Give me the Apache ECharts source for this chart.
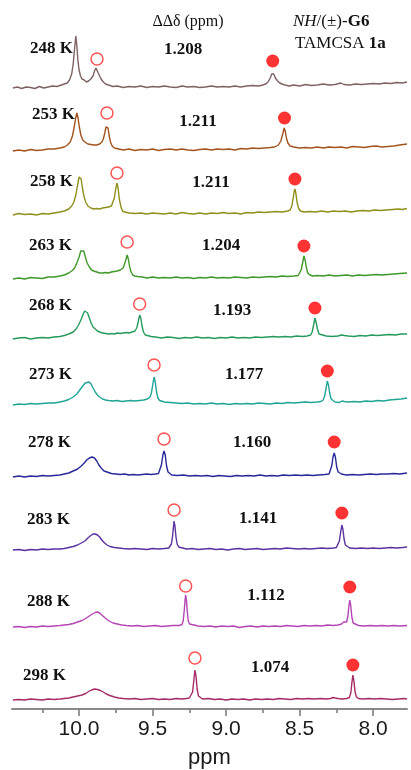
<!DOCTYPE html>
<html><head><meta charset="utf-8">
<script src="https://cdn.jsdelivr.net/npm/echarts@6/dist/echarts.min.js"></script>
<style>html,body{margin:0;padding:0;background:#fff}#c{width:411px;height:770px}</style>
</head><body><div id="c"></div>
<script>
// ---------- DATA ----------
const temps = ['248 K','253 K','258 K','263 K','268 K','273 K','278 K','283 K','288 K','298 K'];
const deltas = ['1.208','1.211','1.211','1.204','1.193','1.177','1.160','1.141','1.112','1.074'];
const majorTicks = [8.0, 8.5, 9.0, 9.5, 10.0];
const minorTicks = [8.25, 8.75, 9.25, 9.75, 10.25];
const openPpm   = [9.878, 9.81, 9.742, 9.673, 9.588, 9.49, 9.422, 9.354, 9.275, 9.212];
const filledPpm = [8.683, 8.603, 8.532, 8.471, 8.396, 8.312, 8.265, 8.213, 8.159, 8.138];
const openMarkH   = [29, 38, 42, 37, 35, 40, 38, 40, 41, 42];
const filledMarkH = [27, 33, 36, 33, 31, 34, 35, 37, 40, 35];

const T248 = [[10.45,0],[10.42,1],[10.39,-0.5],[10.36,1],[10.33,0.5],[10.30,-0.5],[10.27,1.5],[10.24,0],[10.21,1],[10.18,2],[10.15,1.5],[10.12,3],[10.10,4],[10.08,5],[10.065,8],[10.05,14],[10.04,24],[10.03,40],[10.022,52],[10.015,42],[10.008,28],[10.0,18],[9.99,12],[9.98,9],[9.965,8],[9.95,6],[9.935,7],[9.92,9],[9.905,12],[9.895,17],[9.885,20],[9.877,18],[9.87,15],[9.862,13],[9.85,9],[9.835,6],[9.82,4],[9.80,3],[9.77,1.5],[9.74,2],[9.70,0.5],[9.66,1.5],[9.62,1],[9.58,2],[9.54,0.5],[9.50,1.5],[9.46,1],[9.42,2],[9.38,1],[9.34,0.5],[9.30,2],[9.26,1],[9.22,1.5],[9.18,0.5],[9.14,1],[9.10,2],[9.06,1],[9.02,1.5],[8.98,1],[8.94,2],[8.90,1],[8.86,2],[8.82,2.5],[8.78,2],[8.75,3],[8.73,4],[8.715,6],[8.70,10],[8.69,14],[8.683,16],[8.676,14],[8.665,10],[8.65,7],[8.635,5],[8.62,4],[8.60,3],[8.57,2],[8.54,3],[8.50,2],[8.46,3.5],[8.42,2.5],[8.38,3],[8.34,4],[8.30,3],[8.26,3.5],[8.22,5],[8.20,3.5],[8.16,3],[8.12,4],[8.08,3.5],[8.04,4],[8.00,4.5],[7.96,4],[7.92,5],[7.88,4.5],[7.84,5.5],[7.80,5],[7.77,6]];
const T253 = [[10.45,0],[10.41,1],[10.37,0],[10.33,1.5],[10.29,0.5],[10.25,1],[10.21,2],[10.17,2],[10.13,3],[10.10,4],[10.08,6],[10.06,9],[10.045,15],[10.033,24],[10.023,33],[10.015,38],[10.007,33],[9.998,24],[9.988,16],[9.975,11],[9.96,9],[9.94,7],[9.92,6.5],[9.90,6],[9.88,6],[9.86,7],[9.845,9],[9.835,12],[9.825,18],[9.817,24],[9.81,26],[9.803,23],[9.795,15],[9.786,9],[9.775,5],[9.76,3],[9.73,2],[9.70,1],[9.66,2],[9.62,0.5],[9.58,1.5],[9.54,1],[9.50,2],[9.46,0.5],[9.42,1.5],[9.38,2],[9.34,1],[9.30,2],[9.26,1],[9.22,0.5],[9.18,1.5],[9.14,2],[9.10,1],[9.06,2],[9.02,1.5],[8.98,2],[8.94,1],[8.90,2.5],[8.86,2],[8.82,3],[8.78,2.5],[8.74,3],[8.70,3.5],[8.67,4],[8.645,6],[8.628,10],[8.615,17],[8.605,23],[8.598,20],[8.59,13],[8.58,8],[8.565,5],[8.54,4],[8.50,3],[8.46,3.5],[8.42,3],[8.38,4],[8.34,3],[8.30,4],[8.26,3.5],[8.22,4],[8.18,3],[8.14,4.5],[8.10,4],[8.06,3.5],[8.02,4.5],[7.98,5],[7.94,4],[7.90,4.5],[7.86,5],[7.82,6],[7.77,7]];
const T258 = [[10.45,0],[10.41,1.5],[10.37,0.5],[10.33,1],[10.29,0],[10.25,1.5],[10.21,1],[10.17,2],[10.13,3],[10.10,4],[10.07,6],[10.05,9],[10.035,13],[10.022,20],[10.01,30],[10.0,38],[9.993,40],[9.986,36],[9.977,27],[9.967,19],[9.955,13],[9.94,9],[9.92,7],[9.90,6],[9.88,6.5],[9.86,6],[9.84,7],[9.82,7.5],[9.80,8],[9.78,9],[9.77,11],[9.76,17],[9.751,26],[9.742,32],[9.734,26],[9.725,15],[9.715,8],[9.705,4],[9.69,3],[9.66,2],[9.62,1.5],[9.58,2],[9.54,1],[9.50,2],[9.46,1.5],[9.42,1],[9.38,2],[9.34,1],[9.30,2.5],[9.26,1.5],[9.22,1],[9.18,2],[9.14,1],[9.10,2],[9.06,1.5],[9.02,2.5],[8.98,1.5],[8.94,2],[8.90,1],[8.86,2.5],[8.82,2],[8.78,3],[8.74,2.5],[8.70,3],[8.66,3.5],[8.62,3],[8.58,4],[8.565,5],[8.553,9],[8.545,16],[8.538,23],[8.532,26],[8.526,22],[8.518,13],[8.508,7],[8.495,4],[8.47,3],[8.43,3.5],[8.39,3],[8.35,4],[8.31,3],[8.27,4],[8.23,3.5],[8.19,4],[8.15,3],[8.11,4],[8.07,4.5],[8.03,4],[7.99,5],[7.95,4.5],[7.91,5],[7.87,5.5],[7.83,6],[7.80,5.5],[7.77,6.5]];
const T263 = [[10.45,0],[10.41,1],[10.37,0],[10.33,1.5],[10.29,1],[10.25,0.5],[10.21,2],[10.17,2],[10.13,3],[10.10,4],[10.07,6],[10.05,8],[10.03,11],[10.015,16],[10.0,22],[9.988,28],[9.978,30],[9.968,28],[9.957,22],[9.945,16],[9.93,12],[9.915,9],[9.90,8],[9.88,7],[9.86,6],[9.84,6],[9.82,6.5],[9.80,6],[9.78,7],[9.76,7.5],[9.74,8],[9.72,9],[9.70,11],[9.692,13],[9.682,19],[9.673,24],[9.665,20],[9.656,12],[9.646,7],[9.635,4],[9.62,3],[9.60,2.5],[9.57,2],[9.54,1],[9.50,2],[9.46,1],[9.42,1.5],[9.38,1],[9.34,2],[9.30,1],[9.26,1.5],[9.22,0.5],[9.18,1.5],[9.14,1],[9.10,2],[9.06,1],[9.02,1.5],[8.98,1],[8.94,2],[8.90,1.5],[8.86,1],[8.82,2],[8.78,1.5],[8.74,2],[8.70,2.5],[8.66,2],[8.62,3],[8.58,2.5],[8.54,3],[8.51,3.5],[8.50,5],[8.49,9],[8.48,16],[8.471,23],[8.463,19],[8.455,12],[8.445,6],[8.43,4],[8.41,3],[8.38,3.5],[8.34,3],[8.30,4],[8.26,3],[8.22,3.5],[8.18,4],[8.14,3],[8.10,4],[8.06,3.5],[8.02,4],[7.98,4.5],[7.94,4],[7.90,4.5],[7.86,5],[7.82,5.5],[7.77,6]];
const T268 = [[10.45,0],[10.41,1],[10.37,1.5],[10.33,0],[10.29,1],[10.25,1.5],[10.21,1],[10.17,2],[10.13,2.5],[10.10,3.5],[10.07,5],[10.04,7],[10.02,10],[10.0,15],[9.985,20],[9.972,25],[9.962,28],[9.952,28],[9.942,26],[9.93,21],[9.918,16],[9.905,12],[9.89,10],[9.875,8],[9.86,7],[9.84,6],[9.82,5.5],[9.80,5],[9.78,5.5],[9.76,5],[9.74,6],[9.72,5.5],[9.70,6],[9.68,6.5],[9.66,6],[9.64,7],[9.62,8],[9.608,11],[9.598,17],[9.588,24],[9.58,21],[9.572,13],[9.562,7],[9.55,4],[9.535,3.5],[9.51,2.5],[9.48,2],[9.44,1],[9.40,2],[9.36,1.5],[9.32,0.5],[9.28,1.5],[9.24,1],[9.20,2],[9.16,1],[9.12,1.5],[9.08,0.5],[9.04,1.5],[9.00,1],[8.96,2],[8.92,1],[8.88,1.5],[8.84,1],[8.80,2],[8.76,1.5],[8.72,2],[8.68,2.5],[8.64,2],[8.60,2.5],[8.56,2],[8.52,3],[8.48,2.5],[8.45,3],[8.425,4],[8.415,7],[8.405,14],[8.396,21],[8.388,17],[8.379,10],[8.368,5],[8.355,3.5],[8.32,3],[8.28,2.5],[8.24,3],[8.215,4],[8.205,6],[8.195,3.5],[8.17,3],[8.13,2.5],[8.09,3.5],[8.05,3],[8.01,4],[7.97,3.5],[7.93,4],[7.89,4.5],[7.85,4],[7.81,5],[7.77,5]];
const T273 = [[10.45,0],[10.41,1],[10.37,0.5],[10.33,1.5],[10.29,1],[10.25,1.5],[10.21,2],[10.17,2],[10.13,3],[10.10,4],[10.07,5.5],[10.04,8],[10.015,11],[9.995,15],[9.975,19],[9.958,22],[9.945,23],[9.932,23],[9.918,21],[9.905,17],[9.89,13],[9.875,10],[9.86,8],[9.84,6],[9.82,5],[9.80,4.5],[9.77,4],[9.74,4.5],[9.71,3.5],[9.68,4],[9.65,4.5],[9.62,4],[9.59,4.5],[9.56,5],[9.535,6],[9.518,8],[9.508,12],[9.498,21],[9.49,28],[9.482,23],[9.474,14],[9.464,7],[9.452,4.5],[9.44,4],[9.42,3],[9.38,2.5],[9.34,2],[9.30,1.5],[9.26,2],[9.22,1],[9.18,1.5],[9.14,1],[9.10,2],[9.06,1],[9.02,1.5],[8.98,0.5],[8.94,1.5],[8.90,1],[8.86,1.5],[8.82,1],[8.78,2],[8.74,1.5],[8.70,1],[8.66,2],[8.62,1.5],[8.58,2.5],[8.54,2],[8.50,2.5],[8.46,3],[8.42,2.5],[8.38,3],[8.355,3.5],[8.34,5],[8.33,9],[8.32,17],[8.312,24],[8.304,20],[8.296,12],[8.286,6],[8.274,4],[8.26,3],[8.23,2.5],[8.212,4],[8.204,6],[8.196,3.5],[8.17,3],[8.13,3.5],[8.09,3],[8.05,4],[8.01,3.5],[7.97,4.5],[7.93,4],[7.89,5],[7.85,5.5],[7.81,6],[7.77,7]];
const T278 = [[10.45,0],[10.41,1],[10.37,0],[10.33,1],[10.29,0.5],[10.25,1.5],[10.21,1],[10.17,1.5],[10.13,2],[10.10,3],[10.07,4],[10.04,6],[10.01,8],[9.985,11],[9.965,14],[9.948,17],[9.93,19],[9.912,20],[9.895,19],[9.88,16],[9.865,12],[9.85,9],[9.83,6],[9.81,5],[9.78,3.5],[9.75,3],[9.72,2.5],[9.69,3],[9.66,2],[9.63,2.5],[9.60,2],[9.57,2.5],[9.54,3],[9.51,2.5],[9.48,3],[9.46,3.5],[9.45,5],[9.44,12],[9.43,22],[9.422,26],[9.414,22],[9.405,11],[9.395,5],[9.385,3],[9.37,2],[9.33,1.5],[9.29,2],[9.25,1],[9.21,1.5],[9.17,1],[9.13,1.5],[9.09,0.5],[9.05,1.5],[9.01,1],[8.97,0.5],[8.93,1.5],[8.89,1],[8.85,1.5],[8.81,1],[8.77,2],[8.73,1],[8.69,1.5],[8.65,1],[8.61,2],[8.57,1.5],[8.53,2],[8.49,1.5],[8.45,2],[8.41,1.5],[8.37,2],[8.33,2.5],[8.30,3],[8.29,5],[8.282,11],[8.273,20],[8.265,24],[8.257,20],[8.248,10],[8.238,5],[8.228,3.5],[8.215,3],[8.20,2.5],[8.18,2],[8.14,2.5],[8.10,2],[8.06,2.5],[8.02,3],[7.98,2.5],[7.94,3],[7.90,3],[7.86,3.5],[7.82,3],[7.77,4]];
const T283 = [[10.45,0],[10.41,0.5],[10.37,-0.5],[10.33,0.5],[10.29,0],[10.25,1],[10.21,0.5],[10.17,1],[10.13,1],[10.10,1.5],[10.07,2.5],[10.04,3.5],[10.01,5],[9.985,7],[9.96,9],[9.94,12],[9.92,14.5],[9.905,16],[9.89,16],[9.875,15],[9.86,13],[9.845,10],[9.83,7.5],[9.81,5],[9.79,3.5],[9.76,2.5],[9.73,2],[9.70,1.5],[9.66,1],[9.62,1.5],[9.58,1],[9.54,0.5],[9.50,1.5],[9.46,1],[9.42,1.5],[9.39,2],[9.38,3],[9.372,6],[9.364,14],[9.359,22],[9.354,29],[9.348,24],[9.341,13],[9.333,6],[9.322,3],[9.31,1.5],[9.27,1],[9.23,1.5],[9.19,0.5],[9.15,1],[9.11,1.5],[9.07,0.5],[9.03,1],[8.99,0],[8.95,1],[8.91,1.5],[8.87,0.5],[8.83,1],[8.79,1.5],[8.75,0.5],[8.71,1],[8.67,1.5],[8.63,1],[8.59,2],[8.55,1.5],[8.51,1],[8.47,1.5],[8.43,1],[8.39,1.5],[8.35,2],[8.31,1.5],[8.27,2],[8.25,2.5],[8.238,4],[8.23,9],[8.221,18],[8.213,25],[8.206,21],[8.198,11],[8.189,5],[8.178,3],[8.16,2],[8.12,1.5],[8.08,2],[8.04,1.5],[8.0,2],[7.96,1.5],[7.92,2],[7.88,2.5],[7.84,2],[7.80,2.5],[7.77,3]];
const T288 = [[10.45,0],[10.41,0.5],[10.37,-0.5],[10.33,0.5],[10.29,0],[10.25,1],[10.21,0.5],[10.17,1],[10.13,1.5],[10.10,2],[10.07,2.5],[10.04,3.5],[10.01,5],[9.98,6.5],[9.955,8.5],[9.93,11],[9.91,13],[9.89,14.5],[9.875,15],[9.86,14],[9.845,12],[9.83,10],[9.81,7.5],[9.79,5.5],[9.77,4],[9.74,3],[9.71,2],[9.68,1.5],[9.64,1],[9.60,1.5],[9.56,0.5],[9.52,1],[9.48,1.5],[9.44,0.5],[9.40,1],[9.36,1.5],[9.32,1.5],[9.30,2.5],[9.292,6],[9.285,16],[9.279,27],[9.275,32],[9.27,27],[9.264,15],[9.257,6],[9.248,3],[9.235,1.5],[9.19,1],[9.15,0.5],[9.11,1],[9.07,0],[9.03,1],[8.99,0.5],[8.95,1],[8.91,-0.5],[8.87,0.5],[8.83,1],[8.79,0],[8.75,1],[8.71,0.5],[8.67,1],[8.63,0.5],[8.59,1.5],[8.55,1],[8.51,0.5],[8.47,1.5],[8.43,1],[8.39,1.5],[8.35,1],[8.31,2],[8.27,1.5],[8.24,2],[8.215,3],[8.2,5],[8.19,4],[8.18,5],[8.172,11],[8.165,21],[8.159,27],[8.153,22],[8.145,10],[8.136,4],[8.125,2.5],[8.10,1.5],[8.06,1],[8.02,1.5],[7.98,1],[7.94,1.5],[7.90,1],[7.86,1.5],[7.82,1],[7.77,1.5]];
const T298 = [[10.45,0],[10.41,0.5],[10.37,0],[10.33,1],[10.29,0.5],[10.25,0],[10.21,1],[10.17,0.5],[10.13,1],[10.10,1.5],[10.07,2],[10.04,3],[10.01,4],[9.98,5],[9.955,6.5],[9.935,8.5],[9.915,10],[9.895,11],[9.875,10.5],[9.855,9.5],[9.835,8],[9.815,6],[9.79,4.5],[9.76,3],[9.73,2],[9.70,1.5],[9.66,1],[9.62,1.5],[9.58,0.5],[9.54,1],[9.50,1.5],[9.46,0.5],[9.42,1],[9.38,0.5],[9.34,1.5],[9.30,1],[9.27,1.5],[9.25,2],[9.238,3],[9.228,8],[9.22,19],[9.212,30],[9.205,24],[9.197,11],[9.188,4],[9.175,2],[9.16,1],[9.12,1.5],[9.08,0.5],[9.04,1],[9.0,0],[8.96,1],[8.92,0.5],[8.88,1],[8.84,0],[8.80,1],[8.76,0.5],[8.72,1],[8.68,0.5],[8.64,1.5],[8.60,1],[8.56,0.5],[8.52,1.5],[8.48,1],[8.44,1.5],[8.40,1],[8.36,1.5],[8.32,1],[8.29,1.5],[8.272,2.5],[8.265,3.5],[8.258,2],[8.24,1.5],[8.21,1],[8.18,1.5],[8.162,2.5],[8.152,7],[8.145,17],[8.138,25],[8.131,19],[8.123,8],[8.114,3],[8.10,1.5],[8.07,1],[8.03,1.5],[7.99,1],[7.95,1.5],[7.91,1],[7.87,0.5],[7.83,1],[7.79,1.5],[7.77,1]];
const traces = [T248,T253,T258,T263,T268,T273,T278,T283,T288,T298];

// ---------- LAYOUT / STYLE ----------
const X_MIN = 7.77, X_MAX = 10.456;
const colors = ['#7f6262','#a3541c','#8f8f1a','#3f982a','#259a5c','#1ea595','#27289a','#5b30a0','#b545b5','#a52a66'];
const baselineY = [88,151,215,279,339,405,477,550,627,700];
const tempLabelX = [30,32,30,29,29,29,28,27,27,23];
const tempLabelY = [49,115,182,246,306,375,443,520,602,676];
const deltaLabelX = [183,198,211,221,232,244,252,258,266,270];
const deltaLabelY = [50,122,183,246,311,375,443,519,596,668];
const serif = '"Liberation Serif","DejaVu Serif",serif';
const sans = '"Liberation Sans",Arial,sans-serif';

const grids = [], xAxes = [], yAxes = [], series = [], graphics = [];
traces.forEach((data, i) => {
  grids.push({left: 12, right: 4, top: baselineY[i] - 60, height: 66});
  xAxes.push({gridIndex: i, type: 'value', min: X_MIN, max: X_MAX, inverse: true, show: false});
  yAxes.push({gridIndex: i, type: 'value', min: -6, max: 60, show: false});
  series.push({type: 'line', xAxisIndex: i, yAxisIndex: i, data: data, symbol: 'none', silent: true,
    lineStyle: {width: 1.4, color: colors[i]}, itemStyle: {color: colors[i]}, z: 2});
  series.push({type: 'scatter', xAxisIndex: i, yAxisIndex: i, data: [[openPpm[i], openMarkH[i]]],
    symbol: 'circle', symbolSize: 12, silent: true, z: 3,
    itemStyle: {color: '#ffffff', borderColor: '#ff2b2b', borderWidth: 1.5}});
  series.push({type: 'scatter', xAxisIndex: i, yAxisIndex: i, data: [[filledPpm[i], filledMarkH[i]]],
    symbol: 'circle', symbolSize: 13, silent: true, z: 3, itemStyle: {color: '#ff0000'}});
  graphics.push({type: 'text', x: tempLabelX[i], y: tempLabelY[i], z: 10,
    style: {text: temps[i], font: 'bold 17px ' + serif, fill: '#111', align: 'left', verticalAlign: 'middle'}});
  graphics.push({type: 'text', x: deltaLabelX[i], y: deltaLabelY[i], z: 10,
    style: {text: deltas[i], font: 'bold 17px ' + serif, fill: '#111', align: 'center', verticalAlign: 'middle'}});
});

// axis grid
const AG = traces.length;
grids.push({left: 12, right: 4, top: 700, height: 11});
yAxes.push({gridIndex: AG, type: 'value', min: 0, max: 1, show: false});
xAxes.push({gridIndex: AG, type: 'value', min: X_MIN, max: X_MAX, inverse: true, position: 'bottom',
  name: 'ppm', nameLocation: 'middle', nameGap: 38,
  nameTextStyle: {fontSize: 22, fontFamily: sans, color: '#1a1a1a'},
  splitLine: {show: false},
  axisLine: {show: true, lineStyle: {color: '#8a8a8a', width: 2}},
  axisTick: {show: true, customValues: majorTicks, length: 7, lineStyle: {color: '#777', width: 1.5}},
  axisLabel: {show: true, customValues: majorTicks, margin: 10, fontSize: 21, fontFamily: sans, color: '#1a1a1a',
    formatter: v => Number(v).toFixed(1)}});
xAxes.push({gridIndex: AG, type: 'value', min: X_MIN, max: X_MAX, inverse: true, position: 'bottom',
  splitLine: {show: false},
  axisLine: {show: false},
  axisTick: {show: true, customValues: minorTicks, length: 4, lineStyle: {color: '#777', width: 1.5}},
  axisLabel: {show: false}});
series.push({type: 'line', xAxisIndex: AG, yAxisIndex: AG, data: [], symbol: 'none'});

// header texts
graphics.push({type: 'text', x: 188, y: 22, style: {text: '\u0394\u0394\u03b4 (ppm)', font: '16px ' + serif, fill: '#111', align: 'center', verticalAlign: 'middle'}});
graphics.push({type: 'text', x: 293, y: 22, style: {text: '{i|NH}/(\u00b1)-{b|G6}', font: '17px ' + serif, fill: '#111', align: 'left', verticalAlign: 'middle',
  rich: {i: {fontStyle: 'italic', fontSize: 17, fontFamily: serif, fill: '#111'}, b: {fontWeight: 'bold', fontSize: 17, fontFamily: serif, fill: '#111'}}}});
graphics.push({type: 'text', x: 295, y: 44, style: {text: 'TAMCSA {b|1a}', font: '17px ' + serif, fill: '#111', align: 'left', verticalAlign: 'middle',
  rich: {b: {fontWeight: 'bold', fontSize: 17, fontFamily: serif, fill: '#111'}}}});

const chart = echarts.init(document.getElementById('c'), null, {renderer: 'canvas'});
chart.setOption({
  animation: false,
  backgroundColor: '#ffffff',
  grid: grids, xAxis: xAxes, yAxis: yAxes, series: series,
  graphic: graphics
});
</script></body></html>
